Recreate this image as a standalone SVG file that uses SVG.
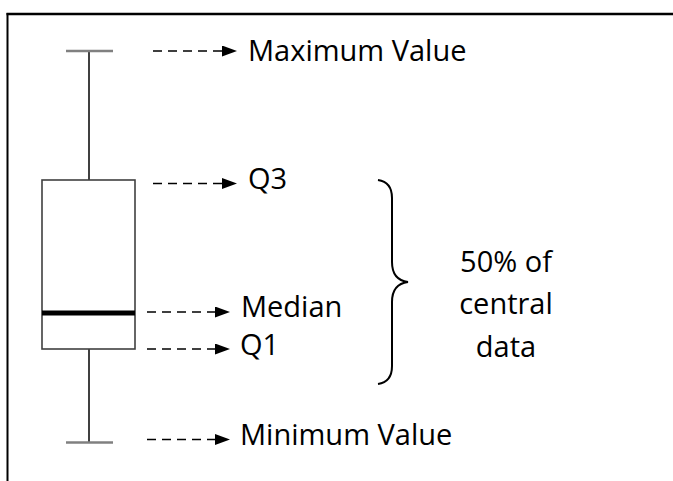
<svg xmlns="http://www.w3.org/2000/svg" width="673" height="481" viewBox="0 0 673 481">
<defs>
<marker id="ah" viewBox="0 0 15 11" refX="0" refY="5.5" markerWidth="15" markerHeight="11" markerUnits="userSpaceOnUse" orient="auto"><path d="M0,0 L15,5.5 L0,11 Z" fill="#000"/></marker>
<style>
.lbl{font-family:"Open Sans","Noto Sans",sans-serif;font-size:29px;fill:#000}
.arr{stroke:#000;stroke-width:1.7;stroke-dasharray:9 6;fill:none;marker-end:url(#ah)}
.cap{stroke:#808080;stroke-width:2.5}
.wh{stroke:#000;stroke-width:1.5}
</style>
</defs>
<rect width="673" height="481" fill="#fff"/>
<g id="frame" fill="none" stroke="#000">
<line x1="6.5" y1="14" x2="673" y2="14" stroke-width="2.5"/>
<line x1="7.5" y1="13" x2="7.5" y2="481" stroke-width="2"/>
</g>
<g id="boxplot">
<line class="wh" x1="89" y1="51" x2="89" y2="180"/>
<line class="wh" x1="89" y1="349" x2="89" y2="442"/>
<line class="cap" x1="66" y1="51" x2="113" y2="51"/>
<line class="cap" x1="66" y1="442.5" x2="113" y2="442.5"/>
<rect x="42" y="180" width="93" height="169" fill="#fff" stroke="#404040" stroke-width="1.6"/>
<line x1="42" y1="313" x2="135" y2="313" stroke="#000" stroke-width="5"/>
</g>
<g id="connectors">
<path class="arr" d="M153,51 L222,51"/>
<path class="arr" d="M153,183.5 L222,183.5"/>
<path class="arr" d="M147,312 L215,312"/>
<path class="arr" d="M147,349 L215,349"/>
<path class="arr" d="M147,439.5 L215,439.5"/>
</g>
<g id="label-max"><text class="lbl" x="248" y="61">Maximum Value</text></g>
<g id="label-q3"><text class="lbl" x="248" y="189">Q3</text></g>
<g id="label-median"><text class="lbl" x="241" y="317">Median</text></g>
<g id="label-q1"><text class="lbl" x="240" y="355">Q1</text></g>
<g id="label-min"><text class="lbl" x="240" y="445">Minimum Value</text></g>
<g id="brace">
<path d="M378,180 Q392,182 392,198 L392,262 Q392,280 408,282 Q392,284 392,302 L392,366 Q392,382 378,384" fill="none" stroke="#000" stroke-width="2"/>
</g>
<g id="label-central">
<text class="lbl" text-anchor="middle" x="506" y="272">50% of</text>
<text class="lbl" text-anchor="middle" x="506" y="314">central</text>
<text class="lbl" text-anchor="middle" x="506" y="357">data</text>
</g>
</svg>
